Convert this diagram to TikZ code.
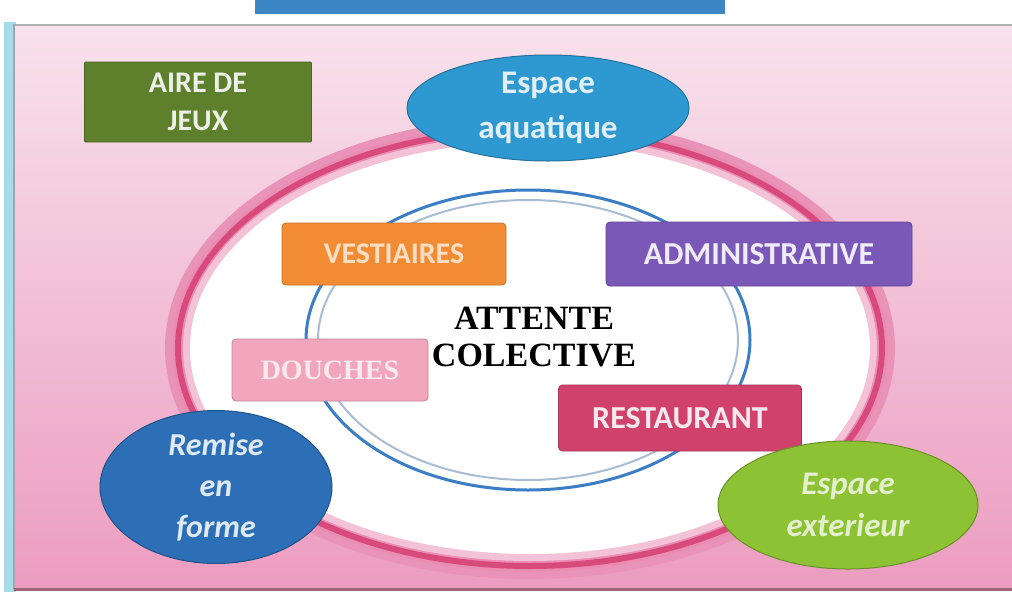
\documentclass[tikz,border=0pt]{standalone}
\usepackage{fontspec}
\setmainfont{Carlito}
\newfontfamily\serifb{Liberation Serif}
\usetikzlibrary{shapes.geometric}
\definecolor{pinkbgtop}{HTML}{F8E2EC}
\definecolor{pinkbgbot}{HTML}{EC9CC0}
\definecolor{rimdark}{HTML}{D94A7C}
\definecolor{rimsoft}{HTML}{E98DB2}
\definecolor{rimpale}{HTML}{F4C2D6}
\definecolor{barblue}{HTML}{3D86C6}
\definecolor{stripcyan}{HTML}{A6DCEA}
\definecolor{jeuxgreen}{HTML}{5E7F2C}
\definecolor{aquablue}{HTML}{2E98D0}
\definecolor{vestorange}{HTML}{F28C34}
\definecolor{adminpurple}{HTML}{7A58B8}
\definecolor{douchepink}{HTML}{F2A6BE}
\definecolor{restored}{HTML}{D0426C}
\definecolor{remiseblue}{HTML}{2C6FB6}
\definecolor{extgreen}{HTML}{8DC234}
\definecolor{ringblue}{HTML}{3B7EC6}
\definecolor{ringgrey}{HTML}{A9BCD2}
\tikzset{
  box/.style={rounded corners=4pt, draw=#1!80!black, line width=0.8pt, fill=#1, font=\bfseries\fontsize{32}{36}\selectfont, text=white!88!#1, align=center},
  blob/.style={ellipse, draw=#1!75!black, line width=1pt, fill=#1, font=\bfseries\fontsize{33}{44}\selectfont, text=white!85!#1, align=center, inner sep=0pt},
}
\begin{document}
\begin{tikzpicture}[x=1pt,y=-1pt]
\useasboundingbox (0,0) rectangle (1012,595);
% frame
\fill[white] (0,0) rectangle (1012,595);
\fill[barblue] (255,0) rectangle (725,14);
\fill[stripcyan] (4,22) rectangle (16,592);
\shade[top color=pinkbgtop, bottom color=pinkbgbot] (14,24) rectangle (1012,590);
\draw[gray!60, line width=1.5pt] (14,25) -- (1012,25);
\draw[gray!70, line width=1.5pt] (14,24) -- (14,590);
\draw[black!55!purple!60, line width=3pt] (14,589) -- (1012,589);
% big rimmed ellipse
\draw[rimsoft!60!pinkbgbot, line width=30pt] (530,348) ellipse [x radius=350, y radius=216];
\draw[rimsoft, line width=18pt] (530,348) ellipse [x radius=349, y radius=215];
\draw[rimdark, line width=6pt] (530,348) ellipse [x radius=352, y radius=218];
\draw[rimpale, line width=8pt] (530,348) ellipse [x radius=343, y radius=209];
\fill[white] (530,348) ellipse [x radius=340, y radius=206];
% blue double ellipse
\draw[ringblue, line width=3pt] (528,340) ellipse [x radius=222, y radius=150];
\draw[ringgrey, line width=2pt] (528,340) ellipse [x radius=210, y radius=140];
% labels
\node[box=jeuxgreen, minimum width=227pt, minimum height=80pt, rounded corners=1pt, font=\bfseries\fontsize{30}{38}\selectfont] (jeux) at (198,102) {AIRE DE\\JEUX};
\node[blob=aquablue, minimum width=282pt, minimum height=106pt, font=\bfseries\fontsize{33}{45}\selectfont] (aqua) at (548,108) {Espace\\aquatique};
\node[box=vestorange, minimum width=224pt, minimum height=62pt, text=white!70!vestorange, font=\bfseries\fontsize{30}{36}\selectfont] (vest) at (394,254) {VESTIAIRES};
\node[box=adminpurple, minimum width=306pt, minimum height=64pt] (admin) at (759,254) {ADMINISTRATIVE};
\node[font=\serifb\bfseries\fontsize{34}{37}\selectfont, align=center] (attente) at (534,337) {ATTENTE\\COLECTIVE};
\node[box=douchepink, minimum width=196pt, minimum height=62pt, text=white!75!douchepink, font=\serifb\bfseries\fontsize{28}{32}\selectfont] (douches) at (330,370) {DOUCHES};
\node[box=restored, minimum width=243pt, minimum height=66pt] (resto) at (680,418) {RESTAURANT};
\node[blob=remiseblue, minimum width=232pt, minimum height=132pt, font=\bfseries\itshape\fontsize{32}{41}\selectfont] (remise) at (216,487) {Remise\\en\\forme};
\node[blob=extgreen, minimum width=260pt, minimum height=128pt, font=\bfseries\itshape\fontsize{33}{42}\selectfont, text=white!75!extgreen] (ext) at (848,505) {Espace\\exterieur};
\end{tikzpicture}
\end{document}
